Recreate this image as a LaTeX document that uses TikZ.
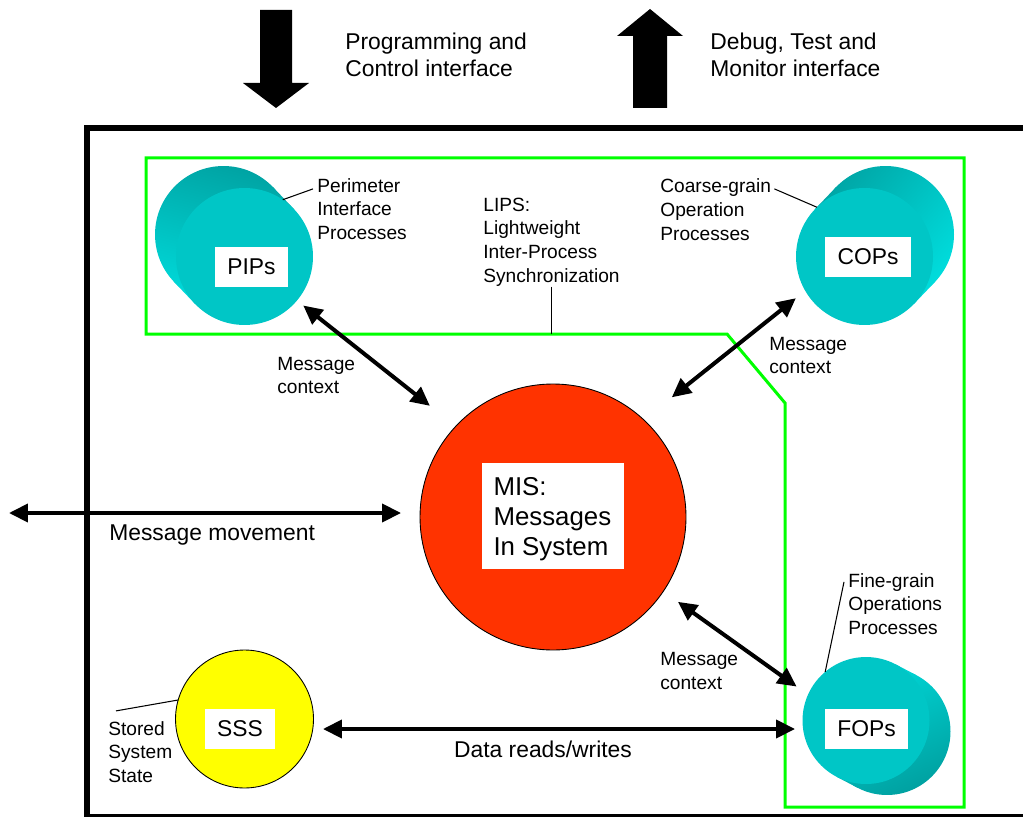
\documentclass[tikz,border=0pt]{standalone}
\usepackage{fontspec}
\setmainfont{Liberation Sans}
\usetikzlibrary{arrows.meta,calc,shadings}

\definecolor{misred}{RGB}{255,51,0}
\definecolor{sssyellow}{RGB}{255,255,0}
\definecolor{lipsgreen}{RGB}{0,255,0}
\definecolor{cylface}{RGB}{0,198,198}
\definecolor{cyldark}{RGB}{0,160,160}
\definecolor{cyllight}{RGB}{0,226,226}

\newcommand{\bigtxt}{\fontsize{13}{15.3}\selectfont}
\newcommand{\smalltxt}{\fontsize{10.9}{13.5}\selectfont}
\newcommand{\mistxt}{\fontsize{14.7}{17}\selectfont}

% side of a cylinder: #1 back centre, #2 radius, #3 shading, #4/#5 shading box, #6 band between the faces
\newcommand{\cylside}[6]{%
  \begin{scope}
    \clip (#1) circle (#2);
    \shade[#3] (#4) rectangle (#5);
  \end{scope}
  \begin{scope}
    \clip #6 -- cycle;
    \shade[#3] (#4) rectangle (#5);
  \end{scope}}

\begin{document}
\begin{tikzpicture}[
  x=0.02cm, y=-0.02cm,
  % --- styles ---
  face/.style={circle, fill=cylface, inner sep=0pt, outer sep=0pt},
  blob/.style={circle, draw=black, line width=0.5pt, inner sep=0pt, outer sep=0pt},
  lbl/.style={fill=white, font=\bigtxt, minimum height=0.8cm, inner sep=0pt},
  note/.style={font=\smalltxt, align=left, anchor=west, inner sep=0pt},
  caption/.style={font=\bigtxt, align=left, anchor=west, inner sep=0pt},
  leader/.style={line width=0.6pt},
  dbl/.style={
    {Triangle[length=0.38cm, width=0.36cm]}-{Triangle[length=0.38cm, width=0.36cm]},
    line width=0.08cm
  }
]
\useasboundingbox (0,0) rectangle (1023,817);
\clip (0,0) rectangle (1023,817);

% ---- INTERFACE ARROWS ----
\fill (260,10) -- (292,10) -- (292,83) -- (309,83) -- (276,108) -- (243,83) -- (260,83) -- cycle;
\fill (650,9) -- (683,36) -- (667,36) -- (667,108) -- (633,108) -- (633,36) -- (617,36) -- cycle;
\node[caption] (progTxt) at (345,54.5) {Programming and\\Control interface};
\node[caption] (debugTxt) at (710,54.5) {Debug, Test and\\Monitor interface};

% ---- SYSTEM FRAME AND LIPS REGION ----
\draw[line width=0.12cm] (87,128) rectangle (1100,817);
\draw[lipsgreen, line width=0.06cm] (146,158) -- (964,158) -- (964,807) -- (785,807)
  -- (785,403) -- (727,334) coordinate (gInner) -- (146,334) -- cycle;

% ---- CYLINDERS ----
\cylside{223.5,234.5}{1.37cm}{top color=cyldark, bottom color=cyllight, shading angle=-15}{150,160}{320,330}
  {(294.05,209.2) -- (273.05,187.2) -- (173.95,281.8) -- (194.95,303.8)}
\cylside{885.5,234.5}{1.37cm}{top color=cyldark, bottom color=cyllight, shading angle=50}{790,160}{960,330}
  {(914.05,303.8) -- (935.05,281.8) -- (835.95,187.2) -- (814.95,209.2)}
\cylside{887,731.5}{1.27cm}{top color=cyllight, bottom color=cyldark, shading angle=25}{800,650}{955,800}
  {(836.54,776.75) -- (857.54,787.75) -- (916.46,675.25) -- (895.46,664.25)}
\node[face, minimum size=2.74cm] (pips) at (244.5,256.5) {};
\node[face, minimum size=2.74cm] (cops) at (864.5,256.5) {};
\node[face, minimum size=2.54cm] (fops) at (866,720.5) {};

% ---- MIS AND SSS ----
\node[blob, fill=misred, minimum size=5.32cm] (mis) at (553,517) {};
\node[blob, fill=sssyellow, minimum size=2.76cm] (sss) at (244.5,719) {};

% ---- LABEL BOXES ----
\node[lbl, minimum width=1.46cm] (pipsLbl) at (251.5,267) {PIPs};
\node[lbl, minimum width=1.72cm] (copsLbl) at (868,257) {COPs};
\node[lbl, minimum width=1.66cm] (fopsLbl) at (866.5,729) {FOPs};
\node[lbl, minimum width=1.40cm] (sssLbl) at (240,729) {SSS};
\node[lbl, minimum width=2.86cm, minimum height=2.14cm] (misLbl) at (553,516) {};
\node[anchor=west, font=\mistxt, align=left, inner sep=0pt] (misTxt)
  at ($(misLbl.west)+(12,3)$) {MIS:\\Messages\\In System};

% ---- DESCRIPTIONS ----
\node[note] (pipsTxt) at (317,209) {Perimeter\\Interface\\Processes};
\node[note] (copsTxt) at (660,209.5) {Coarse-grain\\Operation\\Processes};
\node[note] (lipsTxt) at (483,242) {LIPS:\\Lightweight\\Inter-Process\\Synchronization};
\node[note] (fopsTxt) at (848,604) {Fine-grain\\Operations\\Processes};
\node[note] (sssTxt) at (108,752) {Stored\\System\\State};

\draw[leader] ($(pipsTxt.north west)+(-4,11)$) -- (pips.56);
\draw[leader] ($(copsTxt.north east)+(3,10.5)$) -- (cops.134);
\draw[leader] (lipsTxt.south) -- (lipsTxt.south |- gInner);
\draw[leader] ($(fopsTxt.north west)+(-4,9)$) -- (fops.130);
\draw[leader] ($(sssTxt.north west)+(8,-10)$) -- (sss.164);

% ---- MESSAGE FLOWS ----
\draw[dbl, shorten <=0.16cm, shorten >=0.66cm] (pips.-40) -- (mis.137);
\draw[dbl, shorten <=0.24cm, shorten >=0.72cm] (cops.-150) -- (mis.47);
\draw[dbl, shorten <=0.36cm, shorten >=0.28cm] (mis.-34) -- (fops.156);
\node[note] (ctxA) at (277,375.5) {Message\\context};
\node[note] (ctxB) at (769,355.5) {Message\\context};
\node[note] (ctxC) at (660,671) {Message\\context};

\coordinate (mmL) at (9,513);
\draw[dbl, shorten >=0.38cm] (mmL) -- (mmL -| mis.west);
\node[caption] (mmTxt) at (109,535) {Message movement};

\coordinate (dataL) at ([yshift=-0.2cm]sss.east);
\draw[dbl, shorten <=0.19cm, shorten >=0.15cm] (dataL) -- (dataL -| fops.west);
\node[caption, anchor=center] (dataTxt) at (543,749) {Data reads/writes};

\end{tikzpicture}
\end{document}
